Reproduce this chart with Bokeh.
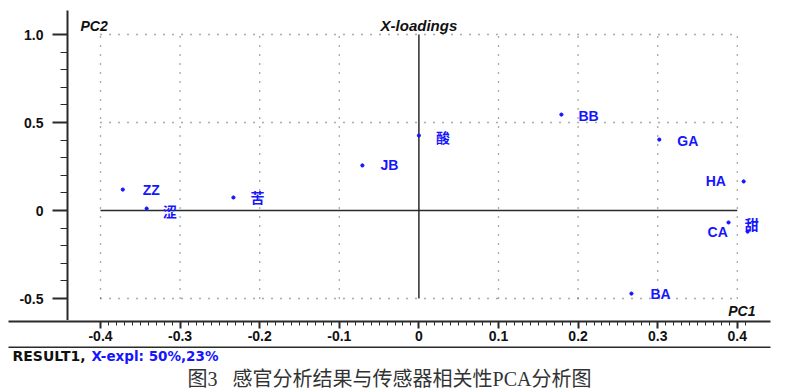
from bokeh.plotting import figure
from bokeh.models import (ColumnDataSource, LinearAxis, FixedTicker, CustomJSTickFormatter,
                          Label, Range1d)
from bokeh.layouts import column
from bokeh.core.properties import value
from bokeh.embed import file_html
from bokeh.resources import INLINE

# ---------------- data ----------------
names = ["ZZ", "涩", "苦", "JB", "酸", "BB", "GA", "HA", "CA", "甜", "BA"]
pc1 = [-0.372, -0.342, -0.233, -0.071, 0.000, 0.179, 0.302, 0.408, 0.389, 0.413, 0.267]
pc2 = [0.119, 0.011, 0.074, 0.256, 0.426, 0.545, 0.403, 0.165, -0.068, -0.120, -0.472]

x_ticks = [-0.4, -0.3, -0.2, -0.1, 0.0, 0.1, 0.2, 0.3, 0.4]
y_ticks = [-0.5, 0.0, 0.5, 1.0]
x_minor = [round(-0.40 + 0.01 * i, 2) for i in range(82)]
y_minor = [round(-0.5 + 0.1 * i, 1) for i in range(16)]

title_text = "X-loadings"
xlab, ylab = "PC1", "PC2"
result_name = "RESULT1,"
result_expl = "X-expl: 50%,23%"
caption = "图3\u00a0\u00a0\u00a0感官分析结果与传感器相关性PCA分析图"

# label placement (pixels, relative to point; +dy = down)
label_dx = [20, 16, 17, 18, 17, 17, 18, -38, -21, -3, 19]
label_dy = [0, 3, 1, 0, 2, 1, 1, 0, 10, -7, 0]

# ---------------- layout ----------------
W = 800
H1 = 320            # plot figure (frame bottom = figure bottom)
H2 = 26             # x-axis strip
H3 = 392 - H1 - H2  # footer
FL, FR, FT = 67, 770, 10
AXL = 8             # left end of the x-axis rule
px_per_x = 796.0
px_per_y = 176.0
x0 = -0.4 - 33 / px_per_x
x1 = x0 + (FR - FL) / px_per_x
y0 = -0.625
y1 = y0 + (H1 - FT) / px_per_y

BLUE = "#1515ff"
AX = "#2a2a2a"


def no_align(fig):
    try:
        fig.frame_align = False
    except Exception:
        pass


p = figure(width=W, height=H1, output_backend="svg", toolbar_location=None,
           x_range=Range1d(x0, x1), y_range=Range1d(y0, y1),
           x_axis_location=None, y_axis_location=None,
           min_border_left=FL, min_border_right=W - FR,
           min_border_top=FT, min_border_bottom=0)
p.outline_line_color = None
p.xgrid.visible = False
p.ygrid.visible = False
no_align(p)

fmt = CustomJSTickFormatter(code="return Math.abs(tick) < 1e-9 ? '0' : tick.toFixed(1);")

yaxis = LinearAxis(ticker=FixedTicker(ticks=y_ticks, minor_ticks=y_minor), formatter=fmt)
yaxis.axis_line_color = AX
yaxis.axis_line_width = 2
yaxis.major_tick_line_color = AX
yaxis.minor_tick_line_color = AX
yaxis.major_tick_line_width = 2
yaxis.major_tick_out = 15
yaxis.major_tick_in = 0
yaxis.minor_tick_out = 7
yaxis.minor_tick_in = 0
yaxis.major_label_standoff = 9
yaxis.major_label_text_font = "Liberation Sans"
yaxis.major_label_text_font_style = "bold"
yaxis.major_label_text_font_size = "14px"
yaxis.major_label_text_color = "#111"
p.add_layout(yaxis, "left")

# dotted grid limited to tick extents
gx = [t for t in x_ticks if abs(t) > 1e-9]
gy = [t for t in y_ticks if abs(t) > 1e-9]
p.segment(x0=gx, y0=[min(y_ticks)] * len(gx), x1=gx, y1=[max(y_ticks)] * len(gx),
          line_color="#555", line_width=1.3, line_dash="1 8")
p.segment(x0=[min(x_ticks)] * len(gy), y0=gy, x1=[max(x_ticks)] * len(gy), y1=gy,
          line_color="#555", line_width=1.3, line_dash="1 8")
# solid zero lines
p.segment(x0=[0], y0=[min(y_ticks)], x1=[0], y1=[max(y_ticks)], line_color=AX, line_width=1.5)
p.segment(x0=[min(x_ticks)], y0=[0], x1=[max(x_ticks)], y1=[0], line_color=AX, line_width=1.5)

src = ColumnDataSource(dict(x=pc1, y=pc2, name=names, dx=label_dx, dy=label_dy))
p.scatter("x", "y", source=src, size=3.2, color=BLUE, marker="circle")
p.text("x", "y", text="name", source=src, x_offset="dx", y_offset="dy",
       text_font=value("'Liberation Sans', 'Noto Sans CJK SC'"), text_font_style="bold",
       text_font_size="14px", text_color=BLUE, text_align="left", text_baseline="middle")

# axis annotations inside frame
p.add_layout(Label(x=x0 + 13 / px_per_x, y=1.0 + 9 / px_per_y, text=ylab,
                   text_font="Liberation Sans", text_font_style="bold italic",
                   text_font_size="14px", text_color="#111", text_baseline="middle"))
p.add_layout(Label(x=0.0, y=1.0 + 9 / px_per_y, text=title_text, text_align="center",
                   text_font="Liberation Sans", text_font_style="bold italic",
                   text_font_size="15px", text_color="#111", text_baseline="middle"))
p.add_layout(Label(x=x1 - 15 / px_per_x, y=y0 + 10 / px_per_y, text=xlab, text_align="right",
                   text_font="Liberation Sans", text_font_style="bold italic",
                   text_font_size="14px", text_color="#111", text_baseline="middle"))

# ---------------- x-axis strip (same x scale, frame extended to the left) ----------------
m = figure(width=W, height=H2, output_backend="svg", toolbar_location=None,
           x_range=Range1d(x0 - (FL - AXL) / px_per_x, x1), y_range=Range1d(0, 1),
           x_axis_location=None, y_axis_location=None,
           min_border_left=AXL, min_border_right=W - FR,
           min_border_top=0, min_border_bottom=H2 - 1)
m.outline_line_color = None
m.xgrid.visible = False
m.ygrid.visible = False
no_align(m)

xaxis = LinearAxis(ticker=FixedTicker(ticks=x_ticks, minor_ticks=x_minor), formatter=fmt)
xaxis.axis_line_color = AX
xaxis.axis_line_width = 2
xaxis.major_tick_line_color = AX
xaxis.minor_tick_line_color = AX
xaxis.major_tick_line_width = 2
xaxis.major_tick_out = 7
xaxis.major_tick_in = 0
xaxis.minor_tick_out = 4
xaxis.minor_tick_in = 0
xaxis.major_label_standoff = 2
xaxis.major_label_text_font = "Liberation Sans"
xaxis.major_label_text_font_style = "bold"
xaxis.major_label_text_font_size = "14px"
xaxis.major_label_text_color = "#111"
m.add_layout(xaxis, "below")

# ---------------- footer (page-pixel coordinates) ----------------
top = H1 + H2
f = figure(width=W, height=H3, output_backend="svg", toolbar_location=None,
           x_range=Range1d(0, W), y_range=Range1d(top + H3, top),
           x_axis_location=None, y_axis_location=None,
           min_border_left=0, min_border_right=0, min_border_top=0, min_border_bottom=0)
f.outline_line_color = None
f.xgrid.visible = False
f.ygrid.visible = False
no_align(f)
f.segment(x0=[AXL], y0=[top + 0.5], x1=[FR], y1=[top + 0.5], line_color=AX, line_width=2)
f.text(x=[12], y=[355], text=[result_name], text_font=value("DejaVu Sans"),
       text_font_style="bold", text_font_size="14px", text_color="#111",
       text_baseline="middle")
f.text(x=[91], y=[355], text=[result_expl], text_font=value("DejaVu Sans"),
       text_font_style="bold", text_font_size="13.5px", text_color=BLUE,
       text_baseline="middle")
f.text(x=[389], y=[378], text=[caption], text_font=value("'Liberation Serif', 'Noto Sans CJK SC'"),
       text_font_size="20px", text_color="#333", text_align="center", text_baseline="middle")

open("out.html", "w").write(file_html(column(p, m, f, spacing=0), INLINE))
